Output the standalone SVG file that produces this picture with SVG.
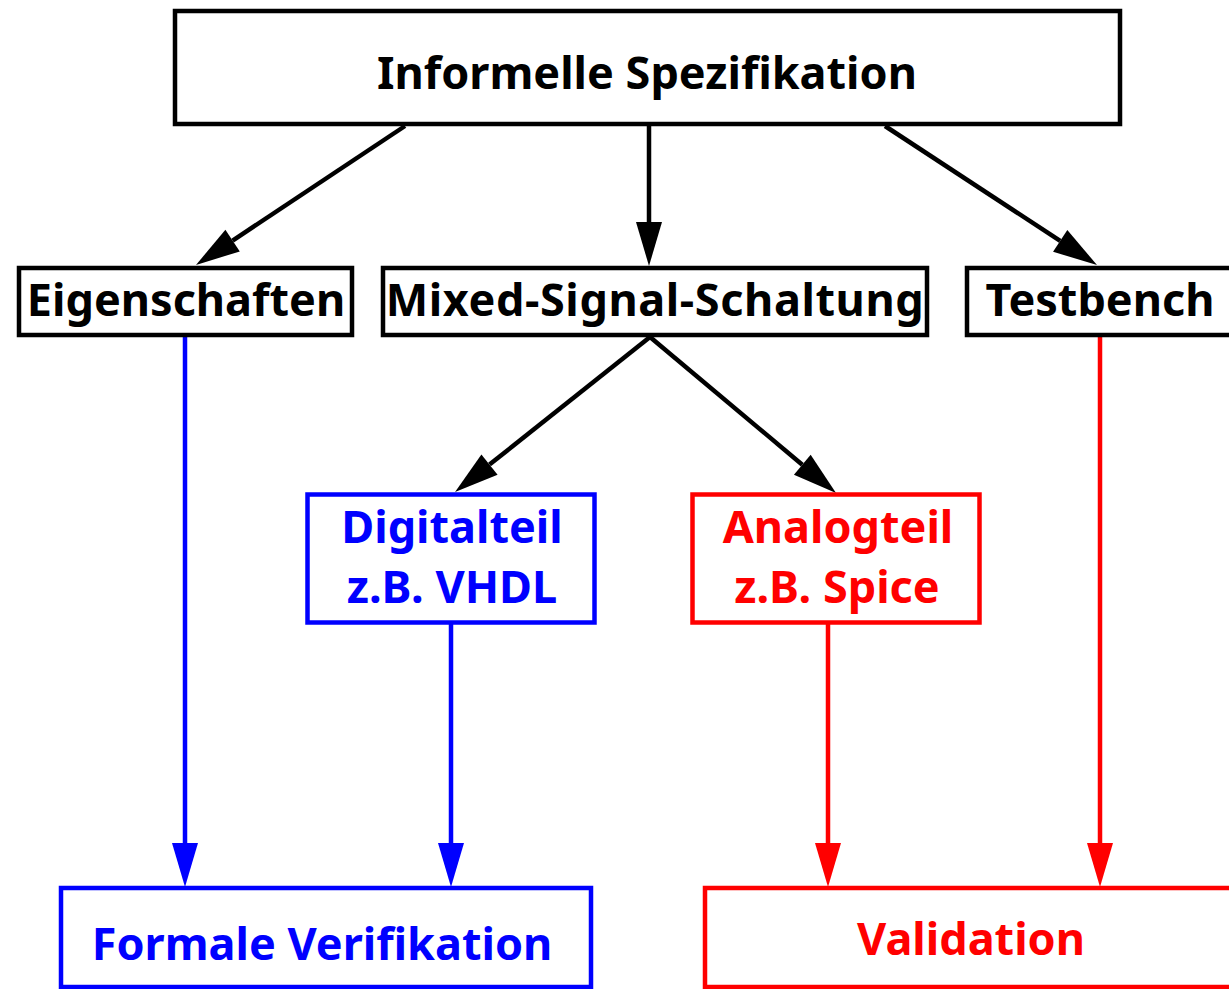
<svg xmlns="http://www.w3.org/2000/svg" width="1229" height="989" viewBox="0 0 1229 989">
  <style>
    .box { fill: #fff; stroke-width: 4.5; }
    .k { stroke: #000; }
    .b { stroke: #0000ff; }
    .r { stroke: #ff0000; }
    text { font-family: "Noto Sans", "Open Sans", "DejaVu Sans", sans-serif; font-weight: bold; font-size: 45px; text-anchor: middle; }
    .tk { fill: #000; }
    .tb { fill: #0000ff; }
    .tr { fill: #ff0000; }
    .ln { fill: none; stroke-width: 4.5; }
  </style>
  <defs>
    <marker id="ak" markerUnits="userSpaceOnUse" markerWidth="46" markerHeight="30" refX="0" refY="13" orient="auto" overflow="visible">
      <path d="M0,0 L44,13 L0,26 Z" fill="#000"/>
    </marker>
    <marker id="ab" markerUnits="userSpaceOnUse" markerWidth="46" markerHeight="30" refX="0" refY="13" orient="auto" overflow="visible">
      <path d="M0,0 L44,13 L0,26 Z" fill="#0000ff"/>
    </marker>
    <marker id="ar" markerUnits="userSpaceOnUse" markerWidth="46" markerHeight="30" refX="0" refY="13" orient="auto" overflow="visible">
      <path d="M0,0 L44,13 L0,26 Z" fill="#ff0000"/>
    </marker>
  </defs>
  <rect width="1229" height="989" fill="#fff"/>

  <g id="connectors">
    <line class="ln k" x1="405" y1="126" x2="232.6" y2="240.6" marker-end="url(#ak)"/>
    <line class="ln k" x1="649" y1="126" x2="649" y2="222" marker-end="url(#ak)"/>
    <line class="ln k" x1="885" y1="126" x2="1060.2" y2="240.9" marker-end="url(#ak)"/>
    <line class="ln k" x1="650" y1="337" x2="489.5" y2="464.6" marker-end="url(#ak)"/>
    <line class="ln k" x1="650" y1="337" x2="802.3" y2="464.7" marker-end="url(#ak)"/>
    <line class="ln b" x1="185" y1="337" x2="185" y2="843" marker-end="url(#ab)"/>
    <line class="ln b" x1="451" y1="624" x2="451" y2="843" marker-end="url(#ab)"/>
    <line class="ln r" x1="828" y1="624" x2="828" y2="843" marker-end="url(#ar)"/>
    <line class="ln r" x1="1100" y1="337" x2="1100" y2="843" marker-end="url(#ar)"/>
  </g>

  <g id="informelle">
    <rect class="box k" x="175" y="11" width="945" height="113"/>
    <text class="tk" x="647" y="89">Informelle Spezifikation</text>
  </g>
  <g id="eigenschaften">
    <rect class="box k" x="19" y="268" width="333" height="67"/>
    <text class="tk" x="186" y="316">Eigenschaften</text>
  </g>
  <g id="mixed">
    <rect class="box k" x="383" y="268" width="544" height="67"/>
    <text class="tk" x="655" y="316" letter-spacing="0.6">Mixed-Signal-Schaltung</text>
  </g>
  <g id="testbench">
    <rect class="box k" x="967" y="268" width="270" height="67"/>
    <text class="tk" x="1100" y="316">Testbench</text>
  </g>
  <g id="digitalteil">
    <rect class="box b" x="307.5" y="494.5" width="287" height="128"/>
    <text class="tb" x="452" y="543">Digitalteil</text>
    <text class="tb" x="452" y="603">z.B. VHDL</text>
  </g>
  <g id="analogteil">
    <rect class="box r" x="692.5" y="494.5" width="287" height="128"/>
    <text class="tr" x="838" y="543">Analogteil</text>
    <text class="tr" x="837" y="603">z.B. Spice</text>
  </g>
  <g id="formale">
    <rect class="box b" x="61" y="888" width="530" height="99"/>
    <text class="tb" x="322" y="960">Formale Verifikation</text>
  </g>
  <g id="validation">
    <rect class="box r" x="705" y="888" width="540" height="99"/>
    <text class="tr" x="971" y="955">Validation</text>
  </g>
</svg>
